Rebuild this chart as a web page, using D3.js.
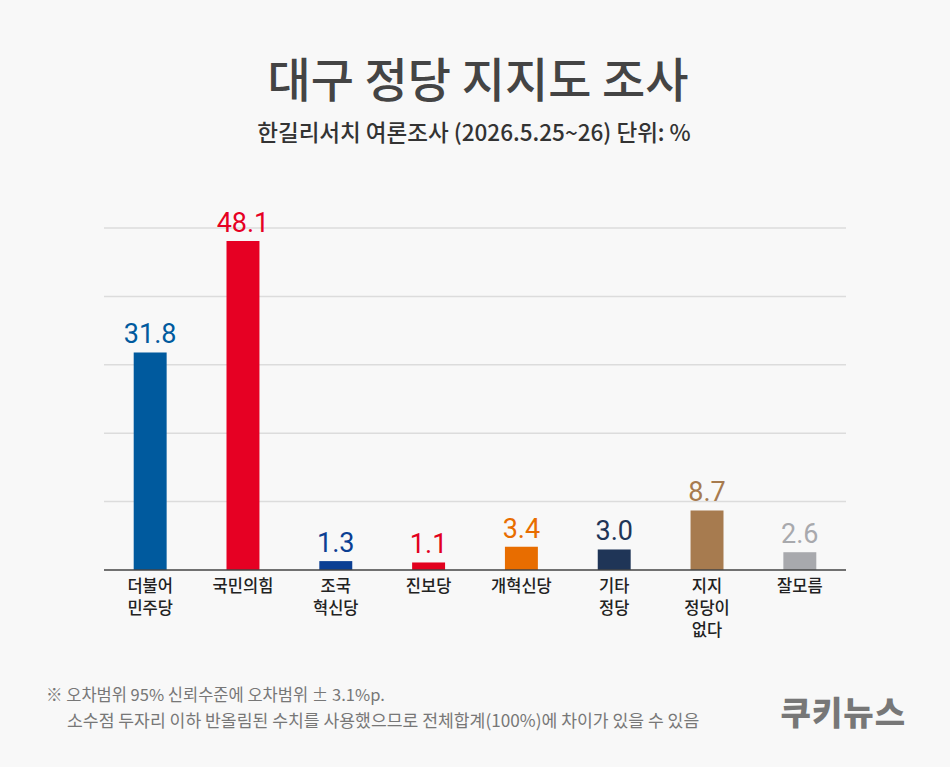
<!DOCTYPE html>
<html>
<head>
<meta charset="utf-8">
<script src="https://cdn.jsdelivr.net/npm/d3@7"></script>
<style>
  body { margin: 0; background: #f8f8f8; }
  svg text { font-family: "Noto Sans CJK KR", "Noto Sans", sans-serif; }
</style>
</head>
<body>
<div id="chart"></div>
<script>
// data
var parties = [["더불어","민주당"], ["국민의힘"], ["조국","혁신당"], ["진보당"], ["개혁신당"], ["기타","정당"], ["지지","정당이","없다"], ["잘모름"]];
var values = [31.8, 48.1, 1.3, 1.1, 3.4, 3.0, 8.7, 2.6];
var labels = ["31.8", "48.1", "1.3", "1.1", "3.4", "3.0", "8.7", "2.6"];
var colors = ["#005a9e", "#e60023", "#0b3f93", "#e2001d", "#e86d00", "#1f3557", "#a77b4f", "#a8a9ad"];
var gridTicks = [0, 10, 20, 30, 40, 50];

var W = 950, H = 767;
var svg = d3.select("#chart").append("svg").attr("width", W).attr("height", H);
svg.append("rect").attr("width", W).attr("height", H).attr("fill", "#f8f8f8");

// title
svg.append("text").attr("x", 478).attr("y", 97).attr("text-anchor", "middle")
  .attr("font-size", 47).attr("font-weight", 500).attr("fill", "#444").text("대구 정당 지지도 조사");
svg.append("text").attr("x", 474).attr("y", 141).attr("text-anchor", "middle")
  .attr("font-size", 22.5).attr("font-weight", 500).attr("fill", "#333").text("한길리서치 여론조사 (2026.5.25~26) 단위: %");

var plotLeft = 104, plotRight = 846, plotTop = 228, base = 570;

var x = d3.scaleBand().domain(d3.range(values.length)).range([plotLeft, plotRight]).paddingInner(0.645).paddingOuter(0.32);
var y = d3.scaleLinear().domain([0, 50]).range([base, plotTop]);

//grid lines
svg.append("g").selectAll("line").data(gridTicks.slice(1)).join("line")
  .attr("x1", plotLeft).attr("x2", plotRight).attr("y1", d => y(d)).attr("y2", d => y(d))
  .attr("stroke", "#dcdcdc").attr("stroke-width", 1.5);

// bars
svg.append("g").selectAll("rect").data(values).join("rect")
  .attr("x", (d, i) => x(i)).attr("width", x.bandwidth())
  .attr("y", d => y(d)).attr("height", d => base - y(d))
  .attr("fill", (d, i) => colors[i]);

// baseline
svg.append("line").attr("x1", plotLeft).attr("x2", plotRight).attr("y1", base).attr("y2", base)
  .attr("stroke", "#444").attr("stroke-width", 1.5);

// value labels (style so the css rule doesn't win)
svg.append("g").selectAll("text").data(values).join("text")
  .attr("x", (d, i) => x(i) + x.bandwidth() / 2).attr("y", d => y(d) - 9)
  .attr("text-anchor", "middle").attr("font-size", 27)
  .style("font-family", "Roboto, sans-serif")
  .attr("fill", (d, i) => colors[i]).text((d, i) => labels[i]);

// category labels
var cat = svg.append("g").selectAll("text").data(parties).join("text")
  .attr("x", (d, i) => x(i) + x.bandwidth() / 2).attr("y", 592)
  .attr("text-anchor", "middle").attr("font-size", 16.5).attr("font-weight", 500).attr("fill", "#222");
cat.selectAll("tspan").data(d => d).join("tspan")
  .attr("x", function() { return d3.select(this.parentNode).attr("x"); })
  .attr("dy", (d, i) => i == 0 ? 0 : 22).text(d => d);

// footnote
svg.append("text").attr("x", 46).attr("y", 701).attr("font-size", 16.5).attr("fill", "#777")
  .text("※ 오차범위 95% 신뢰수준에 오차범위 ± 3.1%p.");
svg.append("text").attr("x", 67).attr("y", 727).attr("font-size", 17.2).attr("fill", "#777")
  .text("소수점 두자리 이하 반올림된 수치를 사용했으므로 전체합계(100%)에 차이가 있을 수 있음");

// logo
svg.append("text").attr("x", 906).attr("y", 725).attr("text-anchor", "end")
  .attr("font-size", 33).attr("font-weight", 900).attr("fill", "#777").attr("letter-spacing", 1).text("쿠키뉴스");
</script>
</body>
</html>
